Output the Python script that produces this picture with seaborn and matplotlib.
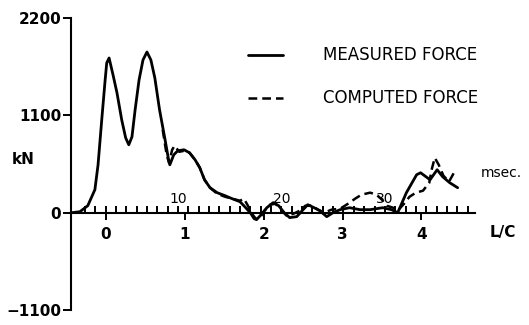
import numpy as np
import pandas as pd
import matplotlib
matplotlib.use("Agg")
import matplotlib.pyplot as plt
import seaborn as sns
from matplotlib.lines import Line2D
from matplotlib.ticker import FixedLocator

# values: x in L/C, force in kN
meas_x = [-0.43, -0.33, -0.23, -0.14, -0.10, -0.05, -0.01, 0.01, 0.04, 0.09, 0.14, 0.20, 0.25,
          0.29, 0.33, 0.37, 0.42, 0.47, 0.52, 0.57, 0.62, 0.68, 0.75, 0.79, 0.81, 0.86, 0.91,
          0.99, 1.06, 1.13, 1.19, 1.25, 1.32, 1.41, 1.51, 1.60, 1.70, 1.76, 1.83, 1.88, 1.91,
          1.98, 2.04, 2.12, 2.19, 2.26, 2.33, 2.42, 2.50, 2.56, 2.64, 2.71, 2.80, 2.88, 2.97,
          3.09, 3.22, 3.35, 3.51, 3.62, 3.70, 3.81, 3.94, 3.99, 4.11, 4.20, 4.27, 4.36, 4.46]
meas_y = [0, 11, 79, 260, 541, 1083, 1500, 1692, 1748, 1557, 1354, 1049, 846,
          767, 857, 1162, 1500, 1726, 1816, 1726, 1523, 1162, 823, 620, 541, 654, 699,
          711, 677, 598, 508, 372, 282, 226, 192, 158, 124, 68, 0, -68, -79,
          -11, 56, 113, 79, 0, -56, -45, 34, 90, 56, 23, -45, 0, 34,
          56, 34, 34, 56, 34, 0, 226, 429, 451, 372, 485, 406, 338, 282]

comp_x = [0.72, 0.77, 0.80, 0.84, 0.87, 0.93, 0.99, 1.06, 1.13, 1.19, 1.25, 1.32, 1.41, 1.51,
          1.60, 1.70, 1.75, 1.80, 1.85, 1.90, 1.95, 2.00, 2.08, 2.15, 2.21, 2.29, 2.38, 2.46,
          2.53, 2.61, 2.69, 2.77, 2.86, 2.97, 3.07, 3.16, 3.24, 3.35, 3.43, 3.50, 3.56, 3.64,
          3.70, 3.78, 3.85, 3.93, 4.02, 4.10, 4.13, 4.17, 4.22, 4.28, 4.35, 4.42]
comp_y = [936, 654, 564, 711, 756, 688, 699, 677, 598, 508, 372, 282, 214, 180,
          158, 135, 158, 79, -11, -68, -68, 11, 90, 101, 45, -34, -11, 23,
          79, 79, 34, 0, 34, 45, 101, 158, 203, 226, 203, 147, 79, 56,
          23, 101, 180, 226, 248, 338, 485, 620, 541, 417, 350, 462]

lc_ticks = [0, 1, 2, 3, 4]
kn_ticks = [-1100, 0, 1100, 2200]
msec_labels = [10, 20, 30]
msec_count = 38
msec_zero = -0.399   # L/C where msec = 0
msec_step = 0.1312   # L/C per msec


def msec_to_lc(m):
    return msec_zero + msec_step * np.asarray(m)


measured = pd.DataFrame({"x": meas_x, "y": meas_y})
computed = pd.DataFrame({"x": comp_x, "y": comp_y})

sns.set_style("white")
plt.rcParams["font.family"] = ["DejaVu Sans"]
plt.rcParams["text.color"] = "black"
plt.rcParams["xtick.color"] = "black"
plt.rcParams["ytick.color"] = "black"

fig = plt.figure(figsize=(5.29, 3.25), dpi=100)
ax = fig.add_axes([71 / 529, (325 - 310) / 325, 404 / 529, 292 / 325])

sns.lineplot(data=measured, x="x", y="y", ax=ax, color="black", lw=2.0,
             sort=False, estimator=None)
sns.lineplot(data=computed, x="x", y="y", ax=ax, color="black", lw=1.8,
             sort=False, estimator=None, dashes=False, linestyle=(0, (3.5, 2)))

ax.set_xlim(-0.443, 4.68)
ax.set_ylim(-1100, 2200)
ax.set_xlabel("")
ax.set_ylabel("")

for s in ["top", "right"]:
    ax.spines[s].set_visible(False)
ax.spines["bottom"].set_position(("data", 0))
ax.spines["left"].set_linewidth(1.5)
ax.spines["bottom"].set_linewidth(1.5)
ax.spines["left"].set_color("black")
ax.spines["bottom"].set_color("black")

ax.set_xticks(lc_ticks)
ax.set_xticklabels([str(t) for t in lc_ticks])
ax.xaxis.set_minor_locator(FixedLocator(msec_to_lc(np.arange(1, msec_count + 1))))
ax.tick_params(axis="x", which="major", direction="out", length=5, width=1.4,
               pad=5, labelsize=11, bottom=True)
ax.tick_params(axis="x", which="minor", direction="in", length=5, width=1.4, bottom=True)
for lab in ax.get_xticklabels():
    lab.set_fontweight("bold")

ax.set_yticks(kn_ticks)
ax.set_yticklabels([str(t).replace("-", "\u2212") for t in kn_ticks])
ax.tick_params(axis="y", direction="out", length=6, width=1.4, pad=1, labelsize=11, left=True)
for lab in ax.get_yticklabels():
    lab.set_fontweight("bold")

for m in msec_labels:
    ax.text(msec_to_lc(m), 70, str(m), ha="center", va="bottom", fontsize=10)
ax.text(1.015, 0.47, "msec.", transform=ax.transAxes, ha="left", va="center",
        fontsize=10)
ax.text(1.037, 0.267, "L/C", transform=ax.transAxes, ha="left", va="center",
        fontsize=11, fontweight="semibold")
fig.text(12 / 529, 1 - 160 / 325, "kN", ha="left", va="center", fontsize=11, fontweight="bold")

handles = [Line2D([], [], color="black", lw=2.0),
           Line2D([], [], color="black", lw=1.8, linestyle=(0, (3.5, 2)))]
ax.legend(handles, ["MEASURED FORCE", "COMPUTED FORCE"], loc="upper left",
          bbox_to_anchor=(174 / 404, 0.914), frameon=False, fontsize=12,
          handlelength=2.1, handletextpad=2.4, labelspacing=1.5, borderaxespad=0,
          borderpad=0.2)

fig.savefig("out.png", dpi=100)
